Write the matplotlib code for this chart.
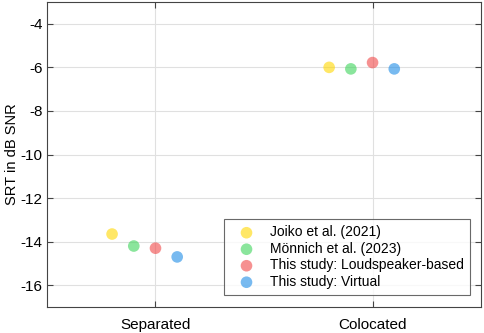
import matplotlib
matplotlib.use('Agg')
import matplotlib.pyplot as plt
import numpy as np

plt.rcParams['font.family'] = ['Liberation Sans', 'DejaVu Sans']
plt.rcParams['axes.unicode_minus'] = False

conditions = ['Separated', 'Colocated']
series = ['Joiko et al. (2021)', 'Mönnich et al. (2023)',
          'This study: Loudspeaker-based', 'This study: Virtual']
srt = {
    'Joiko et al. (2021)': [-13.65, -6.0],
    'Mönnich et al. (2023)': [-14.2, -6.07],
    'This study: Loudspeaker-based': [-14.3, -5.78],
    'This study: Virtual': [-14.7, -6.07],
}
offsets = [-0.2, -0.1, 0.0, 0.1]
colors = ['#FFD700', '#3DD45A', '#F04848', '#1E8CE6']

fig = plt.figure(figsize=(4.84, 3.33), dpi=100)
ax = fig.add_axes([0.097, 0.078, 0.897, 0.916])

x = np.arange(1, len(conditions) + 1)
for name, off, c in zip(series, offsets, colors):
    ax.scatter(x + off, srt[name], s=70, color=c, alpha=0.6,
               edgecolors='none', label=name, zorder=3)

ax.set_xlim(0.5, 2.5)
ax.set_ylim(-17, -3)
ax.set_xticks(x)
ax.set_xticklabels(conditions)
ax.set_yticks(np.arange(-16, -3, 2))
ax.set_ylabel('SRT in dB SNR', fontsize=10.5)
ax.yaxis.set_label_coords(-0.064, 0.5)
ax.tick_params(direction='in', top=True, right=True, labelsize=11,
               length=4, color='#444444')
ax.tick_params(axis='y', pad=3)
ax.tick_params(axis='x', pad=8)
ax.grid(True, color='#e0e0e0', lw=0.8)
ax.set_axisbelow(True)
for s in ax.spines.values():
    s.set_color('#444444')
    s.set_linewidth(0.8)

leg = ax.legend(loc='lower right', fontsize=10, frameon=True, fancybox=False,
                edgecolor='#444444', borderpad=0.45, handletextpad=0.5,
                handlelength=2.4, labelspacing=0.18, borderaxespad=0,
                bbox_to_anchor=(0.975, 0.039))
leg.get_frame().set_linewidth(0.8)

fig.savefig('out.png', dpi=100)
